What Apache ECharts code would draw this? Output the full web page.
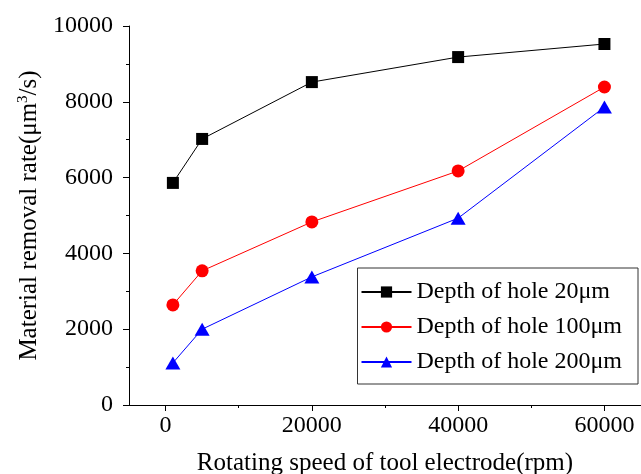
<!DOCTYPE html>
<html>
<head>
<meta charset="utf-8">
<script src="https://cdn.jsdelivr.net/npm/echarts@6/dist/echarts.min.js"></script>
<style>
  html, body { margin: 0; padding: 0; background: #fff; }
  #main { width: 641px; height: 474px; }
</style>
</head>
<body>
<div id="main"></div>
<script>
var speeds = [1000, 5000, 20000, 40000, 60000];
var depth20 = [5860, 7020, 8520, 9180, 9525];
var depth100 = [2640, 3540, 4830, 6175, 8390];
var depth200 = [1110, 2000, 3380, 4930, 7860];
var seriesNames = ["Depth of hole 20\u03bcm", "Depth of hole 100\u03bcm", "Depth of hole 200\u03bcm"];
var xMajorTicks = [0, 20000, 40000, 60000];
var xMinorTicks = [10000, 30000, 50000];

var font = "'Liberation Serif', 'Times New Roman', serif";

function pairs(ys) {
    var out = [];
    for (var i = 0; i < speeds.length; i++) {
        out.push([speeds[i], ys[i]]);
    }
    return out;
}

// plain numbers, no thousand separators
function plain(v) {
    return String(v);
}

var chart = echarts.init(document.getElementById("main"));
var option = {
    backgroundColor: "#fff",
    animation: false,
    grid: { left: 129, top: 26, right: 0, bottom: 69, outerBoundsMode: "none", containLabel: false },
    xAxis: [
        {
            type: "value",
            min: -5000,
            max: 65000,
            name: "Rotating speed of tool electrode(rpm)",
            nameLocation: "middle",
            nameGap: 46,
            nameTextStyle: { fontFamily: font, fontSize: 25, color: "#000" },
            axisLine: { show: true, onZero: false, lineStyle: { color: "#000", width: 1 } },
            axisTick: { show: true, inside: false, length: 6, customValues: xMajorTicks, lineStyle: { color: "#000" } },
            axisLabel: { fontFamily: font, fontSize: 24, color: "#000", margin: 9, customValues: xMajorTicks, formatter: plain },
            splitLine: { show: false }
        },
        {
            // minor ticks only
            type: "value",
            position: "bottom",
            min: -5000,
            max: 65000,
            axisLine: { show: false, onZero: false },
            axisTick: { show: true, inside: false, length: 3, customValues: xMinorTicks, lineStyle: { color: "#000" } },
            axisLabel: { show: false },
            splitLine: { show: false }
        }
    ],
    yAxis: {
        type: "value",
        min: 0,
        max: 10000,
        interval: 2000,
        name: "Material removal rate(\u03bcm{sup|3}/s)",
        nameLocation: "middle",
        nameGap: 82,
        nameTextStyle: {
            fontFamily: font, fontSize: 25, color: "#000",
            rich: { sup: { fontFamily: font, fontSize: 15, color: "#000", verticalAlign: "top", padding: [0, 0, 14, 0] } }
        },
        axisLine: { show: true, onZero: false, lineStyle: { color: "#000", width: 1 } },
        axisTick: { show: true, inside: false, length: 6, lineStyle: { color: "#000" } },
        minorTick: { show: true, splitNumber: 2, length: 3, lineStyle: { color: "#000" } },
        axisLabel: { fontFamily: font, fontSize: 24, color: "#000", margin: 16, formatter: plain },
        splitLine: { show: false }
    },
    legend: {
        orient: "vertical",
        right: 3,
        top: 268,
        padding: [12, 16, 10, 3],
        itemGap: 11,
        itemWidth: 50,
        itemHeight: 14,
        borderColor: "#333",
        borderWidth: 1,
        backgroundColor: "#fff",
        textStyle: { fontFamily: font, fontSize: 24, color: "#000" },
        data: seriesNames
    },
    series: [
        {
            name: seriesNames[0],
            type: "line",
            data: pairs(depth20),
            symbol: "rect",
            symbolSize: 12,
            color: "#000",
            lineStyle: { color: "#000", width: 1 },
            itemStyle: { color: "#000" }
        },
        {
            name: seriesNames[1],
            type: "line",
            data: pairs(depth100),
            symbol: "circle",
            symbolSize: 13,
            color: "#ff0000",
            lineStyle: { color: "#ff0000", width: 1 },
            itemStyle: { color: "#ff0000" }
        },
        {
            name: seriesNames[2],
            type: "line",
            data: pairs(depth200),
            symbol: "triangle",
            symbolSize: [15, 13],
            color: "#0000ff",
            lineStyle: { color: "#0000ff", width: 1 },
            itemStyle: { color: "#0000ff" }
        }
    ]
};
chart.setOption(option);
</script>
</body>
</html>
